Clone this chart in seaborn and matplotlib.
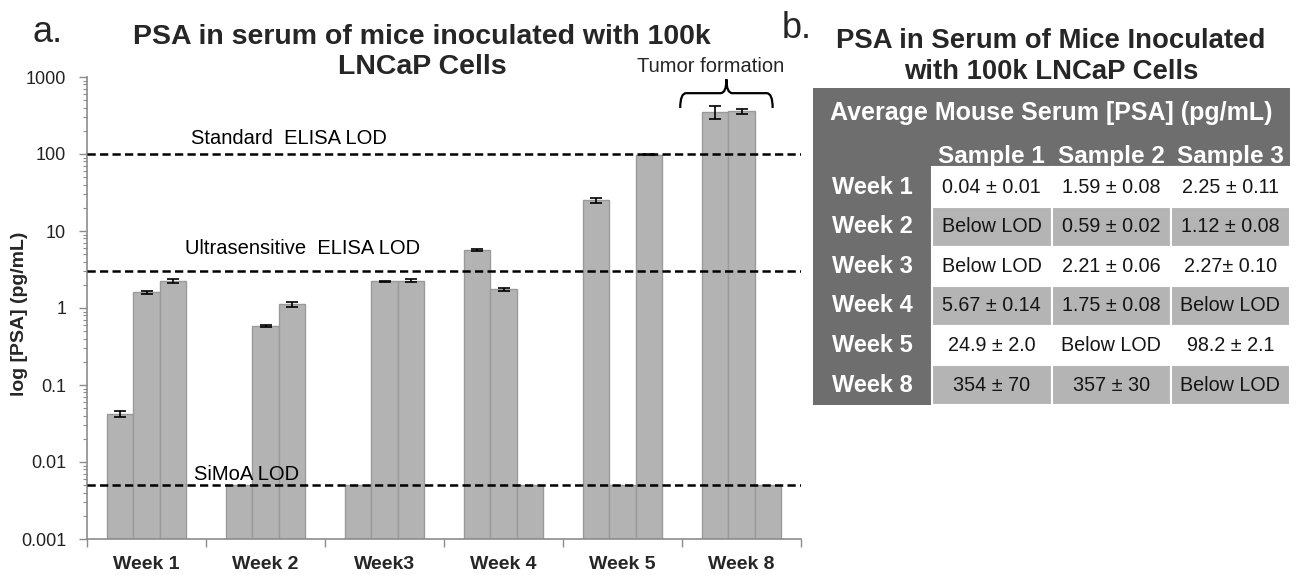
import numpy as np
import pandas as pd
import matplotlib
matplotlib.use("Agg")
import matplotlib.pyplot as plt
import seaborn as sns
from matplotlib.patches import Rectangle, PathPatch
from matplotlib.path import Path
from matplotlib.transforms import blended_transform_factory
from matplotlib.ticker import FixedLocator, FixedFormatter, NullFormatter, LogLocator

# ---------------- data ----------------
weeks = ["Week 1", "Week 2", "Week3", "Week 4", "Week 5", "Week 8"]
samples = ["Sample 1", "Sample 2", "Sample 3"]
# mean PSA (pg/mL); samples below LOD are drawn at the SiMoA LOD
psa_s1 = [0.042, 0.005, 0.005, 5.67, 24.9, 354]
psa_s2 = [1.59, 0.59, 2.21, 1.75, 0.005, 357]
psa_s3 = [2.25, 1.12, 2.27, 0.005, 98.2, 0.005]
err_s1 = [0.004, 0, 0, 0.14, 2.0, 70]
err_s2 = [0.08, 0.02, 0.06, 0.08, 0, 30]
err_s3 = [0.11, 0.08, 0.10, 0, 2.1, 0]

lod_values = [100, 3, 0.005]
lod_labels = ["Standard  ELISA LOD", "Ultrasensitive  ELISA LOD", "SiMoA LOD"]

ytick_values = [0.001, 0.01, 0.1, 1, 10, 100, 1000]
ytick_labels = ["0.001", "0.01", "0.1", "1", "10", "100", "1000"]

title_a = ["PSA in serum of mice inoculated with 100k", "LNCaP Cells"]
title_b = ["PSA in Serum of Mice Inoculated", "with 100k LNCaP Cells"]

table_weeks = ["Week 1", "Week 2", "Week 3", "Week 4", "Week 5", "Week 8"]
table_s1 = ["0.04 ± 0.01", "Below LOD", "Below LOD", "5.67 ± 0.14", "24.9 ± 2.0", "354 ± 70"]
table_s2 = ["1.59 ± 0.08", "0.59 ± 0.02", "2.21 ± 0.06", "1.75 ± 0.08", "Below LOD", "357 ± 30"]
table_s3 = ["2.25 ± 0.11", "1.12 ± 0.08", "2.27± 0.10", "Below LOD", "98.2 ± 2.1", "Below LOD"]

# ---------------- style ----------------
sns.set_theme(style="white")
plt.rcParams["font.family"] = ["Liberation Sans", "DejaVu Sans"]

W, H = 1299, 575
fig = plt.figure(figsize=(W / 100, H / 100), dpi=100)
ax = fig.add_axes([87 / W, 1 - 539 / H, 714 / W, 462 / H])

rows = []
for s, vals, errs in zip(samples, [psa_s1, psa_s2, psa_s3], [err_s1, err_s2, err_s3]):
    for w, v, e in zip(weeks, vals, errs):
        rows.append(dict(week=w, sample=s, psa=v, err=e))
df = pd.DataFrame(rows)

BAR = "#b3b3b3"
sns.barplot(data=df, x="week", y="psa", hue="sample", order=weeks, hue_order=samples,
            palette=[BAR] * 3, width=0.67, gap=0, errorbar=None, saturation=1,
            edgecolor="#9a9a9a", linewidth=1, legend=False, ax=ax, zorder=2)
ax.set_yscale("log")

for cont, errs in zip(ax.containers, [err_s1, err_s2, err_s3]):
    for bar, e in zip(cont, errs):
        if e > 0:
            ax.errorbar(bar.get_x() + bar.get_width() / 2, bar.get_height(), yerr=e,
                        fmt="none", ecolor="black", elinewidth=1.2, capsize=4.5,
                        capthick=1.2, zorder=4)

# LOD lines
label_style = [(0.37, 11.5), (0.32, 16.5), (0.40, 7.5)]
for v, lab, (lx, dy) in zip(lod_values, lod_labels, label_style):
    ax.axhline(v, color="black", lw=1.8, ls=(0, (3.3, 1.7)), zorder=5)
    ax.annotate(lab, xy=(lx, v), xytext=(0, dy), textcoords="offset points",
                ha="left", va="center", fontsize=14.5, color="black")

# axes limits & ticks
ax.set_ylim(ytick_values[0], ytick_values[-1])
ax.set_xlim(-0.5, len(weeks) - 0.5)
ax.yaxis.set_major_locator(FixedLocator(ytick_values))
ax.yaxis.set_major_formatter(FixedFormatter(ytick_labels))
ax.yaxis.set_minor_locator(LogLocator(base=10, subs=np.arange(2, 10)))
ax.yaxis.set_minor_formatter(NullFormatter())
ax.tick_params(axis="y", which="major", left=True, length=6, width=1, color="#8c8c8c",
               labelsize=13, pad=9, direction="out", labelcolor="#222222")
ax.tick_params(axis="y", which="minor", left=True, length=3, width=0.8, color="#8c8c8c",
               direction="out")

ax.set_xticks(np.arange(-0.5, len(weeks), 1.0))
ax.set_xticklabels([])
ax.set_xticks(np.arange(len(weeks)), minor=True)
ax.set_xticklabels(weeks, minor=True, fontweight="bold", fontsize=14)
ax.tick_params(axis="x", which="major", bottom=True, length=6, width=1, color="#8c8c8c",
               direction="out")
ax.tick_params(axis="x", which="minor", bottom=True, length=0, pad=12)
ax.set_xlabel("")
ax.set_ylabel("")
for sp in ["top", "right"]:
    ax.spines[sp].set_visible(False)
for sp in ["left", "bottom"]:
    ax.spines[sp].set_color("#8c8c8c")
    ax.spines[sp].set_linewidth(1.2)

# Tumor formation brace over Week 8 samples 1-2
b1 = ax.containers[0][5]
b2 = ax.containers[1][5]
xl = b1.get_x() - 0.18
xr = b2.get_x() + b2.get_width() + 0.15
xc = (xl + xr) / 2
d = 0.05
yb, ym, yt = 0.933, 0.965, 0.995
codes = [Path.MOVETO, Path.CURVE3, Path.CURVE3, Path.LINETO, Path.CURVE3, Path.CURVE3,
         Path.MOVETO, Path.CURVE3, Path.CURVE3, Path.LINETO, Path.CURVE3, Path.CURVE3]
verts = [(xl, yb), (xl, ym), (xl + d, ym), (xc - d, ym), (xc, ym), (xc, yt),
         (xc, yt), (xc, ym), (xc + d, ym), (xr - d, ym), (xr, ym), (xr, yb)]
trans = blended_transform_factory(ax.transData, ax.transAxes)
ax.add_patch(PathPatch(Path(verts, codes), fc="none", ec="black", lw=1.6,
                       transform=trans, clip_on=False, zorder=6))
ax.text(xc - 0.13, 1.022, "Tumor formation", transform=trans, ha="center", va="center",
        fontsize=14.5, clip_on=False)

# left titles (two lines as separate texts)
for line, ypx in zip(title_a, [37, 67]):
    fig.text(422 / W, 1 - ypx / H, line, ha="center", va="center", fontsize=20.5,
             fontweight="bold")
fig.text(33 / W, 1 - 33 / H, "a.", ha="left", va="center", fontsize=26)
fig.text(20 / W, 1 - 314 / H, "log [PSA] (pg/mL)", rotation=90, ha="center", va="center",
         fontsize=14, fontweight="bold")

# ---------------- table (panel b) ----------------
tax = fig.add_axes([813 / W, 1 - 405 / H, 477 / W, 317 / H])
ncol, nrow = 4, 8
tax.set_xlim(0, ncol)
tax.set_ylim(nrow, 0)
tax.axis("off")
DARK = "#6e6e6e"
GRAY = "#b4b4b4"
tax.add_patch(Rectangle((0, 0), ncol, nrow, fc=DARK, ec="none"))
tax.text(ncol / 2, 0.62, "Average Mouse Serum [PSA] (pg/mL)", color="white",
         fontweight="bold", fontsize=18, ha="center", va="center")
for c, s in enumerate(samples):
    tax.text(c + 1.5, 1.74, s, color="white", fontweight="bold", fontsize=17.5,
             ha="center", va="center")
cols = [table_s1, table_s2, table_s3]
for r, wk in enumerate(table_weeks):
    fc = "white" if r % 2 == 0 else GRAY
    tax.text(0.5, r + 2.5, wk, color="white", fontweight="bold", fontsize=17,
             ha="center", va="center")
    for c in range(3):
        tax.add_patch(Rectangle((c + 1, r + 2), 1, 1, fc=fc, ec="white", lw=1.5))
        tax.text(c + 1.5, r + 2.5, cols[c][r], color="#151515", fontsize=14.2,
                 ha="center", va="center")

for line, ypx in zip(title_b, [41, 72]):
    fig.text(1051 / W, 1 - ypx / H, line, ha="center", va="center", fontsize=19.8,
             fontweight="bold")
fig.text(782 / W, 1 - 28 / H, "b.", ha="left", va="center", fontsize=26)

fig.savefig("out.png", dpi=100)
